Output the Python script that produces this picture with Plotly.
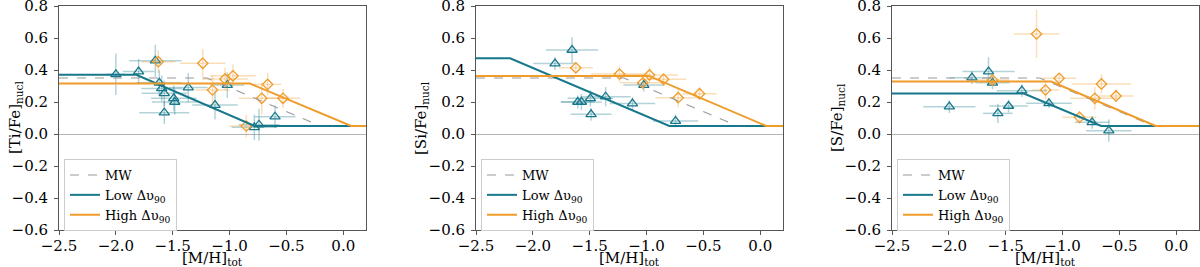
import plotly.graph_objects as go

TEAL = "#17788c"
ORANGE = "#f09c2a"
TEAL_ERR = "rgba(23,120,140,0.33)"
ORANGE_ERR = "rgba(240,156,42,0.33)"

# ---------------- data ----------------
ylabels = ["[Ti/Fe]<sub>nucl</sub>", "[Si/Fe]<sub>nucl</sub>", "[S/Fe]<sub>nucl</sub>"]
xlabel = "[M/H]<sub>tot</sub>"

# Panel 1: Ti
ti_low_x = [-2.00, -1.80, -1.653, -1.618, -1.597, -1.574, -1.574, -1.491, -1.482, -1.363, -1.128, -1.02, -0.782, -0.741, -0.60]
ti_low_y = [0.373, 0.39, 0.458, 0.32, 0.285, 0.254, 0.133, 0.223, 0.20, 0.29, 0.181, 0.306, 0.042, 0.058, 0.108]
ti_low_xerr = [0.08, 0.14, 0.23, 0.2, 0.18, 0.2, 0.22, 0.2, 0.2, 0.17, 0.2, 0.15, 0.2, 0.18, 0.18]
ti_low_yerr = [0.13, 0.08, 0.1, 0.08, 0.08, 0.08, 0.07, 0.08, 0.08, 0.09, 0.09, 0.08, 0.08, 0.1, 0.07]
ti_high_x = [-1.627, -1.236, -1.15, -1.04, -0.97, -0.853, -0.717, -0.665, -0.53]
ti_high_y = [0.452, 0.442, 0.275, 0.344, 0.364, 0.05, 0.223, 0.31, 0.223]
ti_high_xerr = [0.15, 0.2, 0.15, 0.2, 0.2, 0.15, 0.2, 0.12, 0.15]
ti_high_yerr = [0.07, 0.09, 0.09, 0.07, 0.07, 0.07, 0.1, 0.07, 0.06]

# Panel 2: Si
si_low_x = [-1.655, -1.805, -1.605, -1.573, -1.494, -1.488, -1.36, -1.124, -1.024, -0.745]
si_low_y = [0.525, 0.44, 0.20, 0.20, 0.223, 0.123, 0.233, 0.19, 0.306, 0.081]
si_low_xerr = [0.23, 0.19, 0.15, 0.18, 0.2, 0.18, 0.22, 0.2, 0.18, 0.2]
si_low_yerr = [0.08, 0.04, 0.04, 0.05, 0.05, 0.04, 0.06, 0.04, 0.04, 0.04]
si_high_x = [-1.622, -1.238, -1.033, -0.974, -0.85, -0.722, -0.534]
si_high_y = [0.414, 0.375, 0.32, 0.369, 0.342, 0.227, 0.252]
si_high_xerr = [0.15, 0.25, 0.2, 0.25, 0.2, 0.2, 0.15]
si_high_yerr = [0.03, 0.05, 0.04, 0.05, 0.04, 0.06, 0.04]

# Panel 3: S
s_low_x = [-1.996, -1.797, -1.651, -1.616, -1.569, -1.475, -1.358, -1.12, -0.74, -0.593]
s_low_y = [0.171, 0.352, 0.39, 0.32, 0.129, 0.175, 0.271, 0.192, 0.073, 0.021]
s_low_xerr = [0.23, 0.2, 0.23, 0.15, 0.13, 0.17, 0.22, 0.2, 0.15, 0.2]
s_low_yerr = [0.04, 0.04, 0.09, 0.04, 0.06, 0.04, 0.04, 0.03, 0.04, 0.07]
s_high_x = [-1.616, -1.229, -1.15, -1.03, -0.851, -0.716, -0.658, -0.53]
s_high_y = [0.337, 0.625, 0.275, 0.348, 0.104, 0.223, 0.313, 0.238]
s_high_xerr = [0.15, 0.2, 0.12, 0.15, 0.15, 0.22, 0.26, 0.15]
s_high_yerr = [0.04, 0.15, 0.06, 0.03, 0.04, 0.07, 0.06, 0.04]

# model lines: knee points
mw_x = [-2.5, -1.2, -0.2, 0.2]
mw_y = [0.35, 0.35, 0.05, 0.05]
ti_lowline_x = [-2.5, -1.82, -0.78, 0.2]
ti_lowline_y = [0.37, 0.37, 0.05, 0.05]
ti_highline_x = [-2.5, -0.82, 0.07, 0.2]
ti_highline_y = [0.315, 0.315, 0.05, 0.05]
si_lowline_x = [-2.5, -2.2, -0.8, 0.2]
si_lowline_y = [0.473, 0.473, 0.05, 0.05]
si_highline_x = [-2.5, -0.98, 0.053, 0.2]
si_highline_y = [0.363, 0.363, 0.05, 0.05]
s_lowline_x = [-2.5, -1.34, -0.66, 0.2]
s_lowline_y = [0.253, 0.253, 0.05, 0.05]
s_highline_x = [-2.5, -1.10, -0.18, 0.2]
s_highline_y = [0.328, 0.328, 0.05, 0.05]

xticks = [-2.5, -2.0, -1.5, -1.0, -0.5, 0.0]
yticks = [-0.6, -0.4, -0.2, 0.0, 0.2, 0.4, 0.6, 0.8]

panels = [
    dict(low=(ti_low_x, ti_low_y, ti_low_xerr, ti_low_yerr),
         high=(ti_high_x, ti_high_y, ti_high_xerr, ti_high_yerr),
         lowline=(ti_lowline_x, ti_lowline_y), highline=(ti_highline_x, ti_highline_y)),
    dict(low=(si_low_x, si_low_y, si_low_xerr, si_low_yerr),
         high=(si_high_x, si_high_y, si_high_xerr, si_high_yerr),
         lowline=(si_lowline_x, si_lowline_y), highline=(si_highline_x, si_highline_y)),
    dict(low=(s_low_x, s_low_y, s_low_xerr, s_low_yerr),
         high=(s_high_x, s_high_y, s_high_xerr, s_high_yerr),
         lowline=(s_lowline_x, s_lowline_y), highline=(s_highline_x, s_highline_y)),
]

W, H = 1200, 267
TOP, BOT = 6, 230
px_dom = [(59, 366), (476, 783), (892, 1199)]
legend_left = [64, 481, 897]
ytitle_x = [15, 421, 837]
FONT = "DejaVu Serif"

fig = go.Figure()
layout = dict(
    width=W, height=H,
    margin=dict(l=0, r=0, t=TOP, b=H - BOT, autoexpand=False),
    plot_bgcolor="white", paper_bgcolor="white",
    font=dict(family=FONT, size=14, color="black"),
    showlegend=True,
)
annotations = []

for i, p in enumerate(panels):
    n = "" if i == 0 else str(i + 1)
    xa, ya = "x" + n, "y" + n
    leg = "legend" + n
    for key, col, ecol, sym, sz in [("low", TEAL, TEAL_ERR, "triangle-up-open", 9),
                                    ("high", ORANGE, ORANGE_ERR, "diamond-open", 8)]:
        x, y, xe, ye = p[key]
        fig.add_trace(go.Scatter(
            x=x, y=y, mode="markers", xaxis=xa, yaxis=ya, showlegend=False,
            marker=dict(symbol=sym, size=sz, color=col, line=dict(width=1.3, color=col)),
            error_x=dict(type="data", array=xe, color=ecol, thickness=1.5, width=0),
            error_y=dict(type="data", array=ye, color=ecol, thickness=1.5, width=0),
        ))
    fig.add_trace(go.Scatter(x=mw_x, y=mw_y, mode="lines", xaxis=xa, yaxis=ya,
                             name="MW", legend=leg,
                             line=dict(color="#9a9a9a", width=1.1, dash="dash")))
    fig.add_trace(go.Scatter(x=p["lowline"][0], y=p["lowline"][1], mode="lines",
                             xaxis=xa, yaxis=ya, name="Low Δυ<sub>90</sub>", legend=leg,
                             line=dict(color=TEAL, width=2)))
    fig.add_trace(go.Scatter(x=p["highline"][0], y=p["highline"][1], mode="lines",
                             xaxis=xa, yaxis=ya, name="High Δυ<sub>90</sub>", legend=leg,
                             line=dict(color=ORANGE, width=2)))

    d0, d1 = px_dom[i]
    axis_common = dict(showline=True, linecolor="#555555", linewidth=1, mirror=True,
                       ticks="outside", ticklen=4, tickcolor="#555555", automargin=False,
                       ticklabeloverflow="allow",
                       showgrid=False, tickfont=dict(family=FONT, size=15))
    layout["xaxis" + n] = dict(axis_common, domain=[d0 / W, d1 / W], range=[-2.5, 0.2],
                               tickvals=xticks, tickformat=".1f", zeroline=False, anchor=ya,
                               ticklabelstandoff=-2)
    layout["yaxis" + n] = dict(axis_common, domain=[0, 1], range=[-0.6, 0.8],
                               tickvals=yticks, tickformat=".1f", anchor=xa,
                               ticklabelstandoff=3,
                               zeroline=True, zerolinecolor="#b5b5b5", zerolinewidth=1)
    layout[leg] = dict(x=legend_left[i] / W, y=(BOT - 159) / (BOT - TOP),
                       xanchor="left", yanchor="top",
                       bordercolor="#cccccc", borderwidth=1, bgcolor="rgba(255,255,255,0.8)",
                       font=dict(family=FONT, size=13), tracegroupgap=0)
    annotations.append(dict(text=xlabel, xref="paper", yref="paper",
                            x=(d0 + d1) / 2 / W, y=(BOT - 247) / (BOT - TOP),
                            xanchor="center", yanchor="top", showarrow=False,
                            font=dict(family=FONT, size=15)))
    annotations.append(dict(text=ylabels[i], xref="paper", yref="paper",
                            x=ytitle_x[i] / W, y=(BOT - 118) / (BOT - TOP),
                            xanchor="center", yanchor="middle", showarrow=False, textangle=-90,
                            font=dict(family=FONT, size=15)))

layout["annotations"] = annotations
fig.update_layout(**layout)
fig.write_html("out.html", config={"displayModeBar": False},
               post_script="document.body.style.margin='0px';document.body.style.overflow='hidden';")
